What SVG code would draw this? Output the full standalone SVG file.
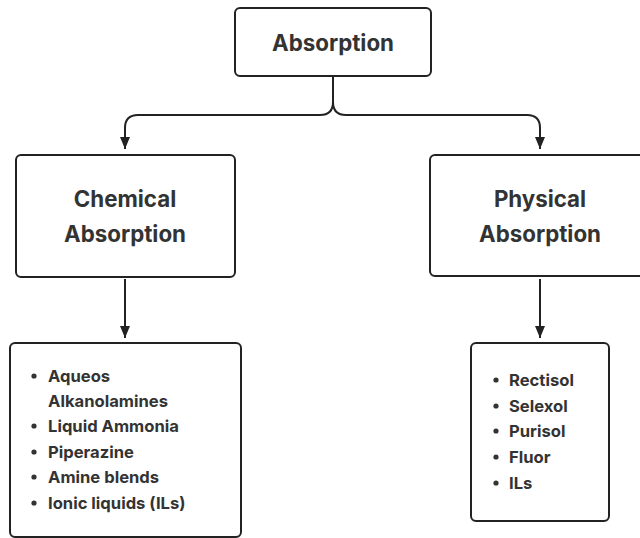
<svg xmlns="http://www.w3.org/2000/svg" width="640" height="538" viewBox="0 0 640 538">
<defs>
<marker id="ah" viewBox="0 0 12 10" refX="12" refY="5" markerWidth="12" markerHeight="10" markerUnits="userSpaceOnUse" orient="auto">
<path d="M0,0 L12,5 L0,10 z" fill="#222"/>
</marker>
<style>
.box{fill:#fff;stroke:#222;stroke-width:2}
.t{font-family:Inter,"Liberation Sans",sans-serif;font-weight:700;fill:#333}
.h{font-size:22.3px;text-anchor:middle}
.li{font-size:16.6px}
.c{fill:none;stroke:#222;stroke-width:2}
</style>
</defs>
<rect width="640" height="538" fill="#fff"/>
<g id="connectors">
<path class="c" d="M333,77 V102 Q333,115 320,115 H138 Q125,115 125,128 V149" marker-end="url(#ah)"/>
<path class="c" d="M333,102 Q333,115 346,115 H527 Q540,115 540,128 V149"  marker-end="url(#ah)"/>
<path class="c" d="M125,279 V338" marker-end="url(#ah)"/>
<path class="c" d="M540,279 V338" marker-end="url(#ah)"/>
</g>
<g id="absorption">
<rect class="box" x="235" y="8" width="196" height="68" rx="5"/>
<text class="t h" x="333" y="51">Absorption</text>
</g>
<g id="chemical">
<rect class="box" x="16" y="155" width="219" height="122" rx="5"/>
<text class="t h" x="125" y="207">Chemical</text>
<text class="t h" x="125" y="242">Absorption</text>
</g>
<g id="physical">
<rect class="box" x="430" y="155" width="220" height="121" rx="5"/>
<text class="t h" x="540" y="207">Physical</text>
<text class="t h" x="540" y="242">Absorption</text>
</g>
<g id="chemical-list">
<rect class="box" x="10" y="343" width="231" height="194" rx="5"/>
<g class="t li">
<circle cx="34" cy="376" r="2.6" fill="#333"/>
<text x="48" y="382">Aqueos</text>
<text x="48" y="407">Alkanolamines</text>
<circle cx="34" cy="426" r="2.6" fill="#333"/>
<text x="48" y="432">Liquid Ammonia</text>
<circle cx="34" cy="452" r="2.6" fill="#333"/>
<text x="48" y="458">Piperazine</text>
<circle cx="34" cy="477" r="2.6" fill="#333"/>
<text x="48" y="483">Amine blends</text>
<circle cx="34" cy="503" r="2.6" fill="#333"/>
<text x="48" y="509">Ionic liquids (ILs)</text>
</g>
</g>
<g id="physical-list">
<rect class="box" x="471" y="343" width="138" height="178" rx="5"/>
<g class="t li">
<circle cx="496" cy="380" r="2.6" fill="#333"/>
<text x="509" y="386">Rectisol</text>
<circle cx="496" cy="406" r="2.6" fill="#333"/>
<text x="509" y="412">Selexol</text>
<circle cx="496" cy="431" r="2.6" fill="#333"/>
<text x="509" y="437">Purisol</text>
<circle cx="496" cy="457" r="2.6" fill="#333"/>
<text x="509" y="463">Fluor</text>
<circle cx="496" cy="483" r="2.6" fill="#333"/>
<text x="509" y="489">ILs</text>
</g>
</g>
</svg>
